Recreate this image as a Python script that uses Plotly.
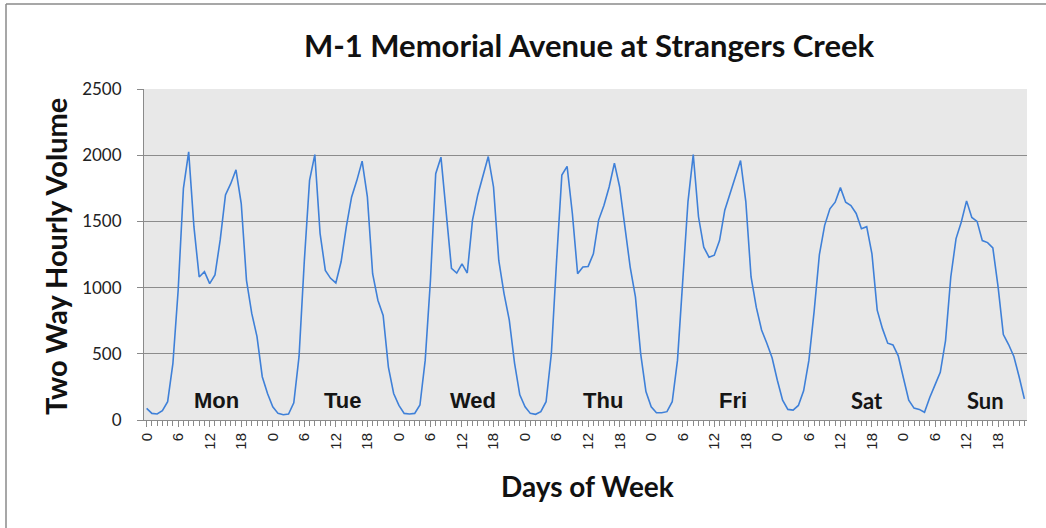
import plotly.graph_objects as go

# ---- data ----
days = ["Mon", "Tue", "Wed", "Thu", "Fri", "Sat", "Sun"]
hour_labels = ["0", "6", "12", "18"]

mon = [88, 50, 45, 70, 138, 428, 980, 1750, 2025, 1460, 1080, 1120, 1030, 1095, 1360, 1700, 1785, 1890, 1635, 1055, 805, 630, 327, 200]
tue = [100, 50, 40, 45, 130, 480, 1200, 1810, 2005, 1410, 1130, 1070, 1035, 1195, 1460, 1685, 1810, 1955, 1685, 1105, 905, 790, 400, 200]
wed = [110, 50, 45, 50, 113, 450, 1055, 1860, 1985, 1560, 1145, 1110, 1180, 1110, 1510, 1700, 1850, 1990, 1760, 1205, 955, 755, 430, 190]
thu = [100, 50, 43, 63, 138, 500, 1205, 1850, 1915, 1560, 1105, 1155, 1160, 1255, 1510, 1620, 1760, 1940, 1760, 1470, 1155, 930, 500, 215]
fri = [100, 55, 55, 63, 138, 450, 1050, 1650, 2005, 1535, 1305, 1230, 1245, 1355, 1585, 1710, 1835, 1960, 1650, 1080, 850, 680, 580, 470]
sat = [300, 150, 80, 75, 110, 220, 450, 820, 1250, 1470, 1595, 1645, 1755, 1645, 1620, 1560, 1445, 1460, 1255, 830, 690, 580, 567, 485]
sun = [315, 150, 90, 80, 58, 170, 265, 360, 600, 1080, 1370, 1495, 1655, 1530, 1500, 1355, 1340, 1300, 1005, 645, 570, 480, 327, 160]

series = [mon, tue, wed, thu, fri, sat, sun]
volume = [v for day in series for v in day]
x = list(range(len(volume)))

tickvals = list(range(0, len(volume), 6))
ticktext = [hour_labels[(i // 6) % 4] for i in tickvals]

fig = go.Figure()
fig.add_trace(go.Scatter(
    x=x, y=volume, mode="lines",
    line=dict(color="#3f80d8", width=1.6),
    hoverinfo="x+y", showlegend=False,
))

# day labels
label_x = [13.3, 37.3, 62.1, 86.9, 111.6, 137.0, 159.6]
for i, d in enumerate(days):
    fam = "Lato" if d in ("Sat", "Sun") else "Liberation Sans"
    fig.add_annotation(
        x=label_x[i], y=150, xref="x", yref="y", text=f"<b>{d}</b>",
        showarrow=False, font=dict(family=fam, size=22, color="#151515"),
    )

# axis titles
fig.add_annotation(
    xref="paper", yref="paper", x=(55 - 144) / 883, y=(420 - 257) / 331,
    xanchor="center", yanchor="middle",
    text="<b>Two Way Hourly Volume</b>", textangle=-90, showarrow=False,
    font=dict(family="Lato", size=29, color="#111"),
)
fig.add_annotation(
    xref="paper", yref="paper", x=(587 - 144) / 883, y=(420 - 486) / 331,
    xanchor="center", yanchor="middle",
    text="<b>Days of Week</b>", showarrow=False,
    font=dict(family="Lato", size=28, color="#111"),
)

# outer chart border (only left and top edges are visible in the frame)
border_left = (6 - 144) / 883
border_top = (420 - 4) / 331
fig.add_shape(type="line", xref="paper", yref="paper",
              x0=border_left, x1=border_left, y0=-1.0, y1=border_top,
              line=dict(color="#8a8a8a", width=1.5), layer="below")
fig.add_shape(type="line", xref="paper", yref="paper",
              x0=border_left, x1=1.5, y0=border_top, y1=border_top,
              line=dict(color="#8a8a8a", width=1.5), layer="below")

fig.update_layout(
    width=1046, height=528,
    margin=dict(l=144, r=19, t=89, b=108),
    paper_bgcolor="white", plot_bgcolor="#e8e8e8",
    title=dict(
        text="<b>M-1 Memorial Avenue at Strangers Creek</b>",
        x=589 / 1046, xanchor="center", xref="container",
        y=1 - 46 / 528, yanchor="middle", yref="container",
        font=dict(family="Lato", size=31, color="#111"),
    ),
)

fig.update_xaxes(
    range=[-0.5, len(volume) - 0.5],
    tickmode="array", tickvals=tickvals, ticktext=ticktext,
    tickangle=-90, tickfont=dict(family="Liberation Sans", size=15, color="#222"),
    ticks="outside", ticklen=6, tickcolor="#8a8a8a",
    minor=dict(tickmode="linear", tick0=0, dtick=1, ticks="outside", ticklen=5, tickcolor="#8a8a8a", showgrid=False),
    showline=True, linecolor="#8a8a8a", linewidth=1,
    showgrid=False, zeroline=False,
)
fig.update_yaxes(
    range=[0, 2500], tickmode="linear", tick0=0, dtick=500,
    tickfont=dict(family="Lato", size=17, color="#222"),
    ticks="outside", ticklen=6, tickcolor="#8a8a8a", ticklabelstandoff=12,
    showline=True, linecolor="#8a8a8a", linewidth=1,
    showgrid=True, gridcolor="#8c8c8c", gridwidth=1, zeroline=False,
)

fig.write_html(
    "out.html",
    config={"displayModeBar": False},
    post_script="document.body.style.margin='0';document.body.style.overflow='hidden';",
)
